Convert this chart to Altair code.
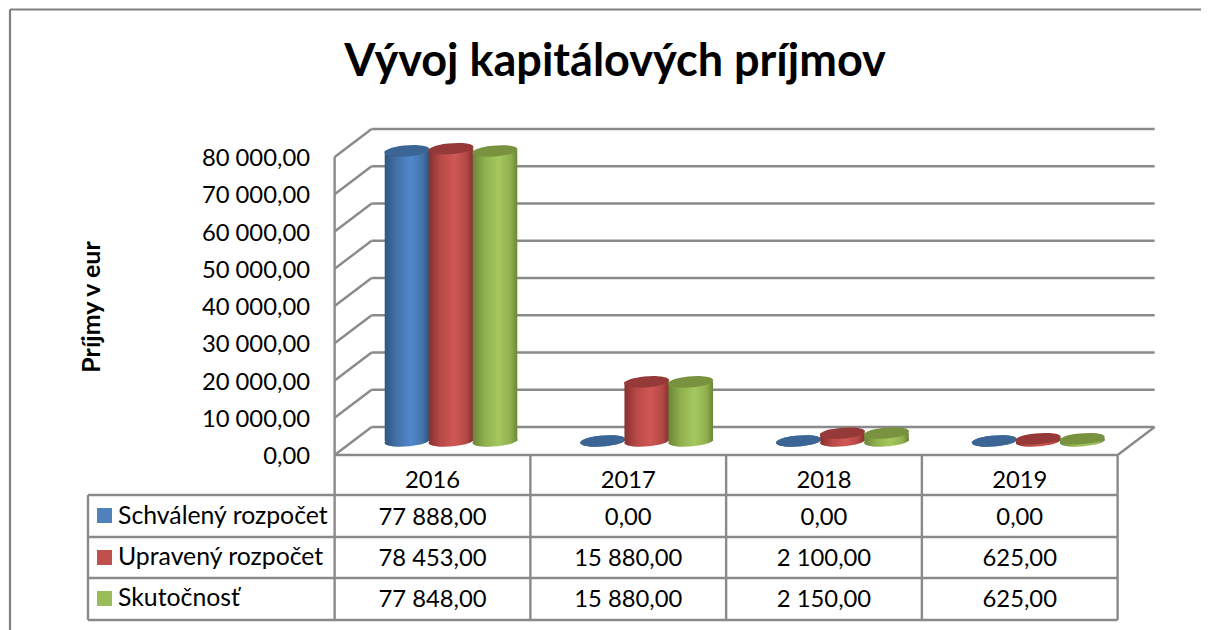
import altair as alt
import pandas as pd

years = ["2016", "2017", "2018", "2019"]
series = ["Schválený rozpočet", "Upravený rozpočet", "Skutočnosť"]
approved = [77888.0, 0.0, 0.0, 0.0]
adjusted = [78453.0, 15880.0, 2100.0, 625.0]
actual = [77848.0, 15880.0, 2150.0, 625.0]
ticks = [0, 10000, 20000, 30000, 40000, 50000, 60000, 70000, 80000]
values = [approved, adjusted, actual]

swatch = ["#4f81bd", "#c0504d", "#9bbb59"]
top_col = ["#3b6594", "#953a38", "#78923f"]
stops = [
    ["#2f5583", "#4472a8", "#5288cc", "#4473a8", "#2f5583"],
    ["#86302e", "#b84a47", "#d05855", "#b34745", "#84302e"],
    ["#6c8638", "#8fb04e", "#a6c85f", "#90b04f", "#6c8638"],
]

W, H = 1193, 622
PXU = 0.003725      # pixels per euro
CAT = 195.75        # pixels per category
ORIGIN_X, ORIGIN_Y = 451, 441   # page position of category 0 / value 0, mid depth


def xv(px):
    return (px - ORIGIN_X) / CAT


def yv(px):
    return (ORIGIN_Y - px) / PXU


DX = 18.5 / CAT     # half depth of the 3D box in category units
DY = 14 / PXU       # half depth in value units
STEP = 44 / CAT
HALF = 22.3 / CAT
TEXT_DROP = 2 / PXU  # Lato sits higher than the original face

xs = alt.Scale(domain=[xv(8), xv(8 + W)], nice=False, zero=False)
ys = alt.Scale(domain=[yv(8 + H), yv(8)], nice=False, zero=False)


def fmt(v):
    return f"{v:,.2f}".replace(",", " ").replace(".", ",")


# ---- frame, walls and table lines --------------------------------------
seg = []


def add(x, y, x2, y2):
    seg.append(dict(x=x, y=y, x2=x2, y2=y2))


L, R = -0.5 - DX, 3.5 - DX
for t in ticks:
    add(L, t - DY, -0.5 + DX, t + DY)
    add(-0.5 + DX, t + DY, 3.5 + DX, t + DY)
add(R, -DY, 3.5 + DX, DY)
add(L, 80000 - DY, L, yv(620))
add(L, -DY, R, -DY)
rows_y = [yv(495), yv(537), yv(578), yv(620)]
for ry in rows_y:
    add(xv(88), ry, R, ry)
add(xv(88), rows_y[0], xv(88), rows_y[-1])
for i in range(1, 5):
    add(i - 0.5 - DX, -DY, i - 0.5 - DX, rows_y[-1])
seg_df = pd.DataFrame(seg)

X = alt.X("x:Q", scale=xs, axis=None)
Y = alt.Y("y:Q", scale=ys, axis=None)


def lines(df, width=2.4, color="#8a8a8a"):
    return alt.Chart(df).mark_rule(color=color, strokeWidth=width).encode(
        x=X, y=Y, x2="x2:Q", y2="y2:Q")


border = lines(pd.DataFrame([
    dict(x=xv(10), y=yv(9.5), x2=xv(8 + W), y2=yv(9.5)),
    dict(x=xv(10), y=yv(9.5), x2=xv(10), y2=yv(8 + H)),
]), 2.2, "#808080")

layers = [border, lines(seg_df)]

# ---- cylinders ----------------------------------------------------------
RX = 22.5
ELLIPSE = ("M-0.996,0.08 A1,0.235,-4.6,1,1,0.996,-0.08 "
           "A1,0.235,-4.6,1,1,-0.996,0.08Z")
SIZE = (2 * RX) ** 2
for s, name in enumerate(series):
    rows = []
    for i, y_name in enumerate(years):
        c = i + (s - 1) * STEP
        rows.append(dict(x=c, xa=c - HALF, xb=c + HALF, y=values[s][i], y0=0))
    df = pd.DataFrame(rows)
    grad = alt.Gradient(
        gradient="linear", x1=0, x2=1, y1=0, y2=0,
        stops=[alt.GradientStop(offset=o, color=col)
               for o, col in zip([0, 0.27, 0.58, 0.85, 1], stops[s])])
    base = alt.Chart(df).mark_point(
        shape=ELLIPSE, size=SIZE, filled=True, fill=grad, opacity=1, strokeWidth=0
    ).encode(x=X, y=alt.Y("y0:Q", scale=ys, axis=None))
    body = alt.Chart(df).mark_bar(fill=grad, strokeWidth=0, opacity=1).encode(
        x=alt.X("xa:Q", scale=xs, axis=None), x2="xb:Q",
        y=alt.Y("y:Q", scale=ys, axis=None, stack=None), y2="y0:Q")
    top = alt.Chart(df).mark_point(
        shape=ELLIPSE, size=SIZE, filled=True, fill=top_col[s], opacity=1, strokeWidth=0
    ).encode(x=X, y=Y)
    layers += [base, body, top]

# ---- swatches -----------------------------------------------------------
sw_df = pd.DataFrame(dict(x=[xv(104.5)] * 3, y=[yv(515.5), yv(557.5), yv(598.5)], s=series))
layers.append(alt.Chart(sw_df).mark_square(size=225, opacity=1, strokeWidth=0).encode(
    x=X, y=Y,
    color=alt.Color("s:N", scale=alt.Scale(domain=series, range=swatch), legend=None)))


# ---- text ---------------------------------------------------------------
def text(df, size, align="center", bold=False, angle=0):
    kw = dict(angle=angle) if angle else {}
    return alt.Chart(df).mark_text(
        font="Lato", fontSize=size, align=align, baseline="middle", color="#000000",
        fontWeight="bold" if bold else "normal", **kw
    ).encode(x=X, y=Y, text="t:N")


TXT = 23.8
layers.append(text(pd.DataFrame([dict(x=xv(615), y=yv(62), t="Vývoj kapitálových príjmov")]), 45, bold=True))
layers.append(text(pd.DataFrame([dict(x=xv(92), y=yv(307), t="Príjmy v eur")]), 25, bold=True, angle=270))
layers.append(text(pd.DataFrame(
    [dict(x=xv(310), y=t - DY - TEXT_DROP, t=fmt(t)) for t in ticks]), TXT, "right"))
layers.append(text(pd.DataFrame(
    [dict(x=i - DX, y=yv(481), t=y_) for i, y_ in enumerate(years)]), TXT))
layers.append(text(pd.DataFrame(
    [dict(x=xv(118), y=yv(py), t=n) for py, n in zip([517, 558, 599], series)]), 24.8, "left"))
cells = []
for py, vals in zip([518, 559, 600], values):
    for i, v in enumerate(vals):
        cells.append(dict(x=i - DX, y=yv(py), t=fmt(v)))
layers.append(text(pd.DataFrame(cells), TXT))

chart = alt.layer(*layers).properties(
    width=W, height=H, padding=0, autosize="none", background="white"
).configure_view(stroke=None)

chart.save("out.html", embed_options={"renderer": "svg", "actions": False})
